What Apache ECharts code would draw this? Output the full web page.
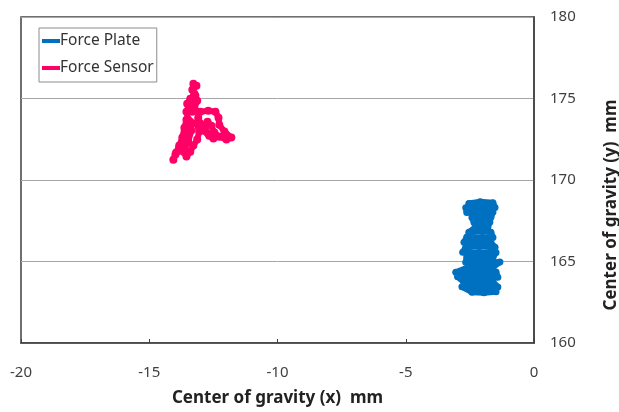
<!DOCTYPE html>
<html>
<head>
<meta charset="utf-8">
<script src="https://cdn.jsdelivr.net/npm/echarts@6/dist/echarts.min.js"></script>
<style>html,body{margin:0;padding:0;background:#fff}#c{width:619px;height:412px}</style>
</head>
<body>
<div id="c"></div>
<script>
var seriesNames = ['Force Plate', 'Force Sensor'];
var xTicks = [-20, -15, -10, -5, 0];
var yTicks = [160, 165, 170, 175, 180];
var xTitle = 'Center of gravity (x)  mm';
var yTitle = 'Center of gravity (y)  mm';

var forcePlate = [
  [-2.54,168.56],[-2.10,168.66],[-1.60,168.60],
  [-1.52,168.32],[-2.20,168.36],[-2.66,168.30],
  [-2.62,168.01],[-2.10,167.96],[-1.60,168.03],
  [-1.68,167.71],[-2.05,167.76],[-2.42,167.70],
  [-2.34,167.40],[-1.72,167.42],
  [-1.80,167.10],[-2.27,167.12],
  [-2.54,166.79],[-2.00,166.84],[-1.68,166.80],
  [-1.60,166.48],[-2.10,166.44],[-2.62,166.50],
  [-2.73,166.18],[-2.20,166.22],[-1.68,166.16],
  [-1.52,165.87],[-2.15,165.92],[-2.66,165.88],
  [-2.78,165.57],[-2.10,165.52],[-1.48,165.55],
  [-1.60,165.26],[-2.05,165.30],[-2.62,165.28],
  [-2.66,164.95],[-2.00,164.92],[-1.33,164.97],
  [-1.60,164.65],[-2.10,164.70],[-2.54,164.66],
  [-3.05,164.34],[-2.20,164.38],[-1.48,164.36],
  [-1.41,164.04],[-2.20,164.00],[-2.98,164.06],
  [-2.73,163.73],[-2.15,163.78],[-1.60,163.75],
  [-1.41,163.43],[-2.10,163.40],[-2.81,163.45],
  [-2.42,163.12],[-1.95,163.08],[-1.48,163.14]
];

var forceSensor = [
  [-13.28,175.90],[-13.16,175.78],[-13.32,175.54],[-13.24,175.29],[-13.40,174.98],
  [-13.52,174.68],[-13.44,174.31],[-13.24,174.43],[-13.13,174.86],[-13.20,175.17],
  [-13.36,174.74],[-13.32,174.19],[-13.01,174.19],[-12.70,174.25],[-12.42,174.19],
  [-12.30,173.82],[-12.27,173.39],[-12.07,172.97],[-11.80,172.60],[-11.99,172.48],
  [-12.27,172.66],[-12.46,172.91],[-12.58,173.33],[-12.73,173.58],[-12.85,173.21],
  [-12.70,172.84],[-12.50,172.54],[-12.66,172.72],[-12.89,173.03],[-13.01,173.46],
  [-13.09,173.82],[-13.16,173.46],[-13.05,172.97],[-13.13,172.48],[-13.28,172.11],
  [-13.40,171.74],[-13.55,171.44],[-13.67,171.74],[-13.48,172.35],[-13.36,173.03],
  [-13.40,173.58],[-13.55,173.70],[-13.63,173.21],[-13.71,172.60],[-13.83,172.11],
  [-13.95,171.68],[-14.06,171.25],[-13.98,171.56],[-13.83,171.99],[-13.67,172.48],
  [-13.55,173.09],[-13.48,173.70],[-13.55,174.19],[-13.44,174.62]
];

var colors = ['#0070C0', '#FF0066'];
var font = 'Noto Sans';

var chart = echarts.init(document.getElementById('c'), null, {renderer: 'canvas'});
chart.setOption({
  animation: false,
  backgroundColor: '#fff',
  color: colors,
  grid: {left: 21, right: 85, top: 17, bottom: 68, show: true, borderColor: '#404040', borderWidth: 1.5, containLabel: false},
  legend: {
    data: seriesNames,
    orient: 'vertical',
    left: 39, top: 28,
    icon: 'rect', itemWidth: 18, itemHeight: 4, itemGap: 9,
    padding: [4, 3, 5, 3],
    borderColor: '#8c8c8c', borderWidth: 1, backgroundColor: '#fff',
    textStyle: {fontFamily: font, fontSize: 15.5, color: '#333', lineHeight: 18, padding: [0, 0, 0, -5]}
  },
  xAxis: {
    type: 'value', min: xTicks[0], max: xTicks[xTicks.length - 1], interval: 5,
    axisLine: {show: true, lineStyle: {color: '#404040', width: 1.5}},
    axisTick: {show: true, inside: true, length: 4, lineStyle: {color: '#404040'}},
    splitLine: {show: false},
    axisLabel: {margin: 22, fontFamily: font, fontSize: 15, color: '#404040'},
    name: xTitle, nameLocation: 'middle', nameGap: 47,
    nameTextStyle: {fontFamily: font, fontSize: 17, fontWeight: 'bold', color: '#222'}
  },
  yAxis: {
    type: 'value', position: 'right', min: yTicks[0], max: yTicks[yTicks.length - 1], interval: 5,
    axisLine: {show: true, lineStyle: {color: '#404040', width: 1.5}},
    axisTick: {show: false},
    splitLine: {show: true, lineStyle: {color: '#a6a6a6', width: 1}},
    axisLabel: {margin: 16, fontFamily: font, fontSize: 15, color: '#404040'}
  },
  graphic: [{
    type: 'text', x: 611, y: 205, rotation: Math.PI / 2,
    style: {text: yTitle, fontFamily: font, fontSize: 17, fontWeight: 'bold', fill: '#222', align: 'center', verticalAlign: 'middle'}
  }],
  series: [
    {
      name: seriesNames[0], type: 'line', data: forcePlate,
      symbol: 'circle', symbolSize: 7, showSymbol: true,
      lineStyle: {width: 6, color: colors[0], cap: 'round', join: 'round'},
      itemStyle: {color: colors[0]}
    },
    {
      name: seriesNames[1], type: 'line', data: forceSensor,
      symbol: 'circle', symbolSize: 8, showSymbol: true,
      lineStyle: {width: 6, color: colors[1], cap: 'round', join: 'round'},
      itemStyle: {color: colors[1]}
    }
  ]
});
</script>
</body>
</html>
